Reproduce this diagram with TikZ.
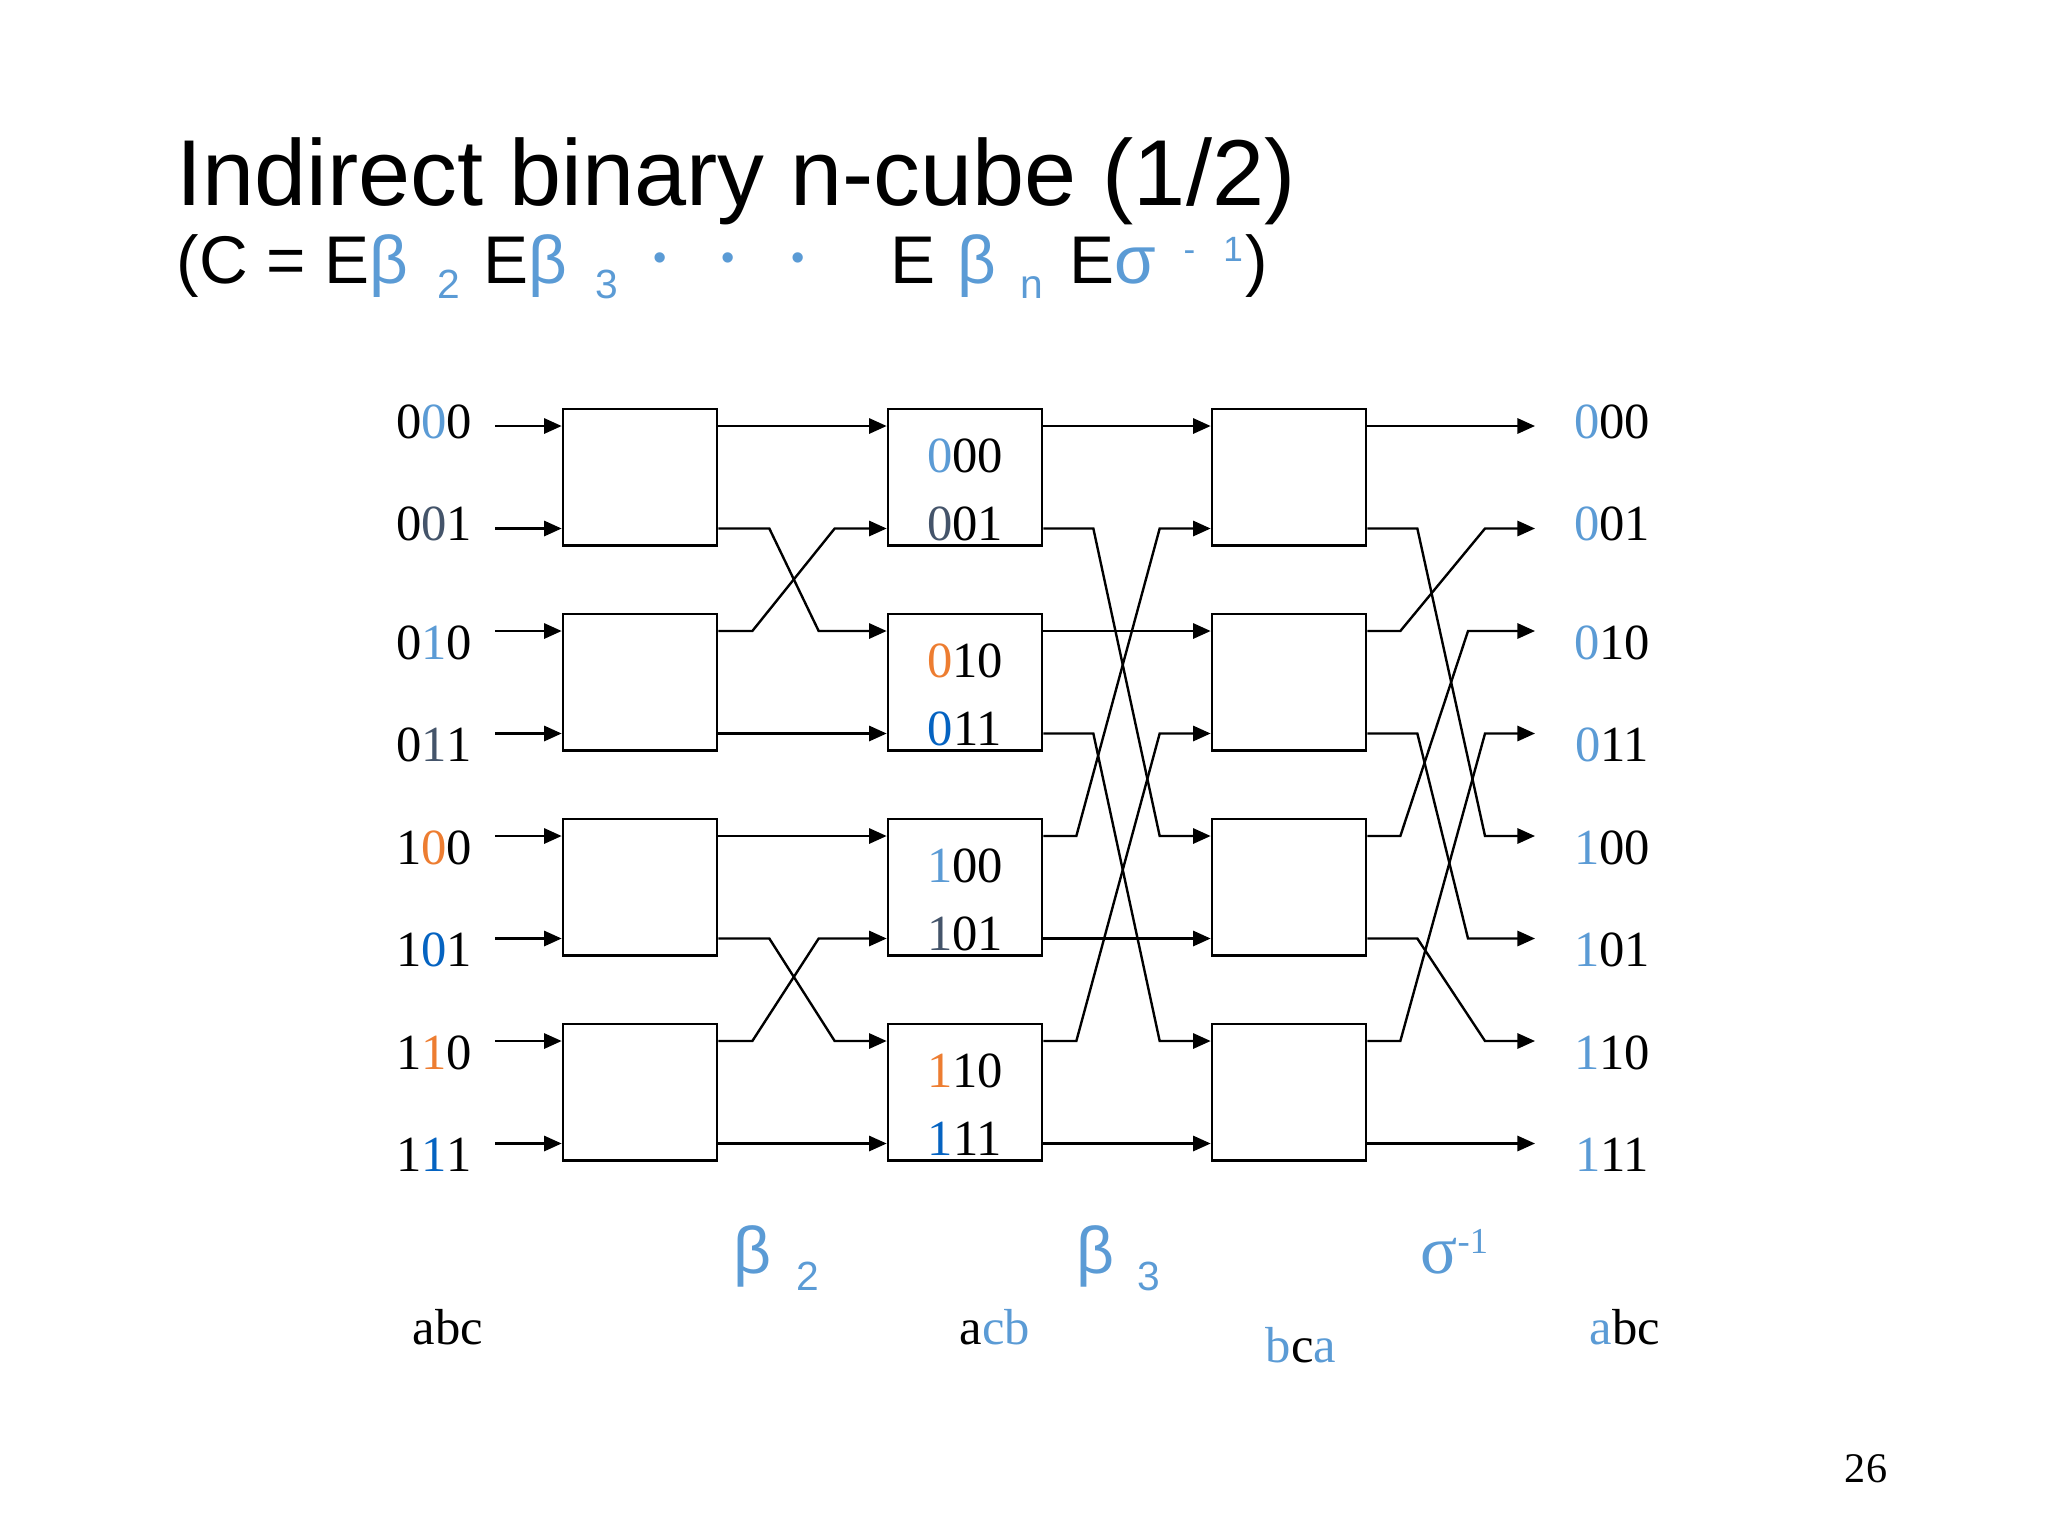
\documentclass[tikz,border=0pt]{standalone}
\usepackage{fontspec}
\setmainfont{Liberation Serif}
\newfontfamily\arialfont{Liberation Sans}
\usepackage{xcolor}
\definecolor{cubeBlue}{HTML}{5B9BD5}
\definecolor{cubeDeep}{HTML}{0563C1}
\definecolor{cubeOrange}{HTML}{ED7D31}
\definecolor{cubeSlate}{HTML}{44546A}
\usepackage{tikz}
\usetikzlibrary{calc,arrows.meta,positioning}
\newlength{\pxu}
\setlength{\pxu}{0.125mm}
\newcommand{\blu}[1]{\textcolor{cubeBlue}{#1}}
\newcommand{\dbl}[1]{\textcolor{cubeDeep}{#1}}
\newcommand{\org}[1]{\textcolor{cubeOrange}{#1}}
\newcommand{\gry}[1]{\textcolor{cubeSlate}{#1}}
\newcommand{\subs}[1]{\raisebox{-15\pxu}{\fontsize{14.5}{16}\selectfont\blu{#1}}}
\newcommand{\sups}[1]{\raisebox{22\pxu}{\fontsize{12.5}{14}\selectfont\blu{#1}}}
\newcommand{\dotc}{\raisebox{13\pxu}{\fontsize{13.5}{14}\selectfont\blu{•}}}

\begin{document}
\begin{tikzpicture}[x=0.125mm, y=-0.125mm,
    swbox/.style={draw=black, line width=0.95pt, minimum width=19.25mm, minimum height=17.1mm, inner sep=0pt},
    dig/.style={font=\fontsize{18}{20}\selectfont, inner sep=0pt, anchor=base},
    perm/.style={font=\fontsize{18}{20}\selectfont, inner sep=0pt, anchor=base},
    wire/.style={line width=0.85pt},
    arr/.style={wire, -{Triangle[length=2.2mm, width=1.9mm]}}
  ]
    \useasboundingbox (0,0) rectangle (2048,1536);
    % titles
    \node[anchor=base west, inner sep=0pt, font=\arialfont\fontsize{33.3}{40}\selectfont] (title) at (176,205) {Indirect binary n-cube (1/2)};
    \node[anchor=base west, inner sep=0pt, font=\arialfont\fontsize{24}{28}\selectfont] (formula) at (176,283)
      {(C = E\blu{β}\hspace{29\pxu}\subs{2}\hspace{23\pxu}E\blu{β}\hspace{28\pxu}\subs{3}\hspace{36\pxu}\dotc\hspace{55\pxu}\dotc\hspace{56\pxu}\dotc\hspace{86\pxu}E\hspace{22\pxu}\blu{β}\hspace{24\pxu}\subs{n}\hspace{26\pxu}E\blu{σ}\hspace{28\pxu}\sups{-}\hspace{28\pxu}\sups{1}\hspace{3\pxu})};
    % rows
    \coordinate (r0) at (0,426);
    \coordinate (r1) at (0,528.5);
    \coordinate (r2) at (0,631);
    \coordinate (r3) at (0,733.5);
    \coordinate (r4) at (0,836);
    \coordinate (r5) at (0,938.5);
    \coordinate (r6) at (0,1041);
    \coordinate (r7) at (0,1143.5);
    \coordinate (src) at (495,0);
    \coordinate (tip) at (1535,0);
    % switch boxes
    \node[swbox] (a1) at (640,477.25) {};
    \node[swbox] (a2) at (640,682.25) {};
    \node[swbox] (a3) at (640,887.25) {};
    \node[swbox] (a4) at (640,1092.25) {};
    \node[swbox] (b1) at (965,477.25) {};
    \node[swbox] (b2) at (965,682.25) {};
    \node[swbox] (b3) at (965,887.25) {};
    \node[swbox] (b4) at (965,1092.25) {};
    \node[swbox] (c1) at (1289,477.25) {};
    \node[swbox] (c2) at (1289,682.25) {};
    \node[swbox] (c3) at (1289,887.25) {};
    \node[swbox] (c4) at (1289,1092.25) {};
    % input labels
    \node[dig] (in0) at (434,438) {0\blu{0}0};
    \node[dig] (in1) at (434,540.5) {0\gry{0}1};
    \node[dig] (in2) at (434,659) {0\blu{1}0};
    \node[dig] (in3) at (434,761.5) {0\gry{1}1};
    \node[dig] (in4) at (434,864) {1\org{0}0};
    \node[dig] (in5) at (434,966.5) {1\dbl{0}1};
    \node[dig] (in6) at (434,1069) {1\org{1}0};
    \node[dig] (in7) at (434,1171.5) {1\dbl{1}1};
    % labels inside the middle boxes
    \node[dig] (m0) at ($(b1.center)+(0,-5.25)$) {\blu{0}00};
    \node[dig] (m1) at ($(b1.center)+(0,62.75)$) {\gry{0}01};
    \node[dig] (m2) at ($(b2.center)+(0,-5.25)$) {\org{0}10};
    \node[dig] (m3) at ($(b2.center)+(0,62.75)$) {\dbl{0}11};
    \node[dig] (m4) at ($(b3.center)+(0,-5.25)$) {\blu{1}00};
    \node[dig] (m5) at ($(b3.center)+(0,62.75)$) {\gry{1}01};
    \node[dig] (m6) at ($(b4.center)+(0,-5.25)$) {\org{1}10};
    \node[dig] (m7) at ($(b4.center)+(0,62.75)$) {\dbl{1}11};
    % output labels
    \node[dig] (out0) at (1612,438) {\blu{0}00};
    \node[dig] (out1) at (1612,540.5) {\blu{0}01};
    \node[dig] (out2) at (1612,659) {\blu{0}10};
    \node[dig] (out3) at (1612,761.5) {\blu{0}11};
    \node[dig] (out4) at (1612,864) {\blu{1}00};
    \node[dig] (out5) at (1612,966.5) {\blu{1}01};
    \node[dig] (out6) at (1612,1069) {\blu{1}10};
    \node[dig] (out7) at (1612,1171.5) {\blu{1}11};
    % inputs
    \draw[arr] (src |- r0) -- (a1.west |- r0);
    \draw[arr] (src |- r1) -- (a1.west |- r1);
    \draw[arr] (src |- r2) -- (a2.west |- r2);
    \draw[arr] (src |- r3) -- (a2.west |- r3);
    \draw[arr] (src |- r4) -- (a3.west |- r4);
    \draw[arr] (src |- r5) -- (a3.west |- r5);
    \draw[arr] (src |- r6) -- (a4.west |- r6);
    \draw[arr] (src |- r7) -- (a4.west |- r7);
    % beta_2
    \draw[arr] (a1.east |- r0) -- (b1.west |- r0);
    \draw[arr] (a1.east |- r1) -- ++(51,0) -- ($(b2.west |- r2)+(-68,0)$) -- (b2.west |- r2);
    \draw[arr] (a2.east |- r2) -- ++(34,0) -- ($(b1.west |- r1)+(-52,0)$) -- (b1.west |- r1);
    \draw[arr] (a2.east |- r3) -- (b2.west |- r3);
    \draw[arr] (a3.east |- r4) -- (b3.west |- r4);
    \draw[arr] (a3.east |- r5) -- ++(51,0) -- ($(b4.west |- r6)+(-52,0)$) -- (b4.west |- r6);
    \draw[arr] (a4.east |- r6) -- ++(34,0) -- ($(b3.west |- r5)+(-68,0)$) -- (b3.west |- r5);
    \draw[arr] (a4.east |- r7) -- (b4.west |- r7);
    % beta_3
    \draw[arr] (b1.east |- r0) -- (c1.west |- r0);
    \draw[arr] (b1.east |- r1) -- ++(50,0) -- ($(c3.west |- r4)+(-51,0)$) -- (c3.west |- r4);
    \draw[arr] (b2.east |- r2) -- (c2.west |- r2);
    \draw[arr] (b2.east |- r3) -- ++(50,0) -- ($(c4.west |- r6)+(-51,0)$) -- (c4.west |- r6);
    \draw[arr] (b3.east |- r4) -- ++(33,0) -- ($(c1.west |- r1)+(-51,0)$) -- (c1.west |- r1);
    \draw[arr] (b3.east |- r5) -- (c3.west |- r5);
    \draw[arr] (b4.east |- r6) -- ++(33,0) -- ($(c2.west |- r3)+(-51,0)$) -- (c2.west |- r3);
    \draw[arr] (b4.east |- r7) -- (c4.west |- r7);
    % sigma^-1
    \draw[arr] (c1.east |- r0) -- (tip |- r0);
    \draw[arr] (c1.east |- r1) -- ++(50,0) -- ($(tip |- r4)+(-50,0)$) -- (tip |- r4);
    \draw[arr] (c2.east |- r2) -- ++(33,0) -- ($(tip |- r1)+(-50,0)$) -- (tip |- r1);
    \draw[arr] (c2.east |- r3) -- ++(50,0) -- ($(tip |- r5)+(-67,0)$) -- (tip |- r5);
    \draw[arr] (c3.east |- r4) -- ++(33,0) -- ($(tip |- r2)+(-67,0)$) -- (tip |- r2);
    \draw[arr] (c3.east |- r5) -- ++(50,0) -- ($(tip |- r6)+(-50,0)$) -- (tip |- r6);
    \draw[arr] (c4.east |- r6) -- ++(33,0) -- ($(tip |- r3)+(-50,0)$) -- (tip |- r3);
    \draw[arr] (c4.east |- r7) -- (tip |- r7);
    % stage names and bit orders
    \node[anchor=base west, inner sep=0pt, font=\arialfont\fontsize{23.5}{28}\selectfont] (beta2) at (733,1273) {\blu{β}\hspace{25\pxu}\raisebox{-17\pxu}{\fontsize{14.5}{16}\selectfont\blu{2}}};
    \node[anchor=base west, inner sep=0pt, font=\arialfont\fontsize{23.5}{28}\selectfont] (beta3) at (1076,1273) {\blu{β}\hspace{23\pxu}\raisebox{-17\pxu}{\fontsize{14.5}{16}\selectfont\blu{3}}};
    \node[anchor=base west, inner sep=0pt, font=\fontsize{24.5}{28}\selectfont] (sigma) at (1420,1273) {\blu{σ}\raisebox{20\pxu}{\fontsize{13}{14}\selectfont\blu{-1}}};
    \node[perm] (abc) at (448,1344) {abc};
    \node[perm] (acb) at (995,1344) {a\blu{cb}};
    \node[perm] (bca) at (1301,1362) {\blu{b}c\blu{a}};
    \node[perm] (abc2) at (1625,1344) {\blu{a}bc};
    \node[anchor=base, inner sep=0pt, font=\fontsize{15}{18}\selectfont] (page) at (1866,1482) {26};
  \end{tikzpicture}
\end{document}
